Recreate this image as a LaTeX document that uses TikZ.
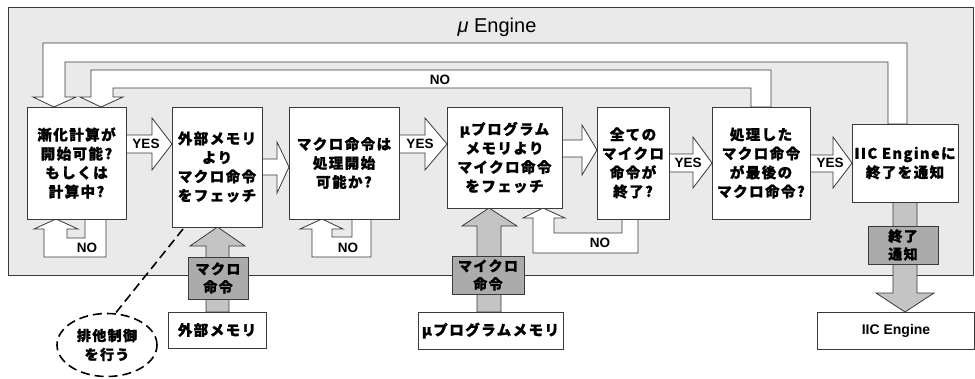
\documentclass[tikz,border=0pt]{standalone}
\usepackage{fontspec}
\setmainfont{Liberation Sans}
\newfontfamily\jp{Noto Sans CJK JP}[LetterSpace=10, BoldFeatures={FakeBold=1.2}]
\usetikzlibrary{shapes.geometric}
\definecolor{bggray}{HTML}{EAEAEA}
\definecolor{linec}{HTML}{3A3A3A}
\definecolor{shaftgray}{HTML}{C4C4C4}
\definecolor{labgray}{HTML}{ABABAB}
\tikzset{
  boxn/.style={draw=linec, fill=white, line width=0.8pt, align=center, inner sep=0pt,
    font=\jp\bfseries\fontsize{14.5}{19}\selectfont},
  glab/.style={draw=linec, fill=labgray, line width=0.8pt, align=center, inner sep=0pt,
    font=\jp\bfseries\fontsize{14}{18}\selectfont},
  yn/.style={font=\bfseries\fontsize{13.5}{15}\selectfont, inner sep=0pt},
  blk/.style={draw=linec, fill=white, line width=0.8pt, line join=miter},
  gblk/.style={draw=linec, fill=shaftgray, line width=0.8pt, line join=miter},
}
\begin{document}
\begin{tikzpicture}[x=1pt,y=-1pt]
\useasboundingbox (0,0) rectangle (975,378);
% background frame
\draw[draw=linec, fill=bggray, line width=0.8pt] (8,7) rectangle (973,275);
\node[font=\fontsize{20}{22}\selectfont] (title) at (497,27) {{\itshape μ} Engine};

% loop arrows
\draw[blk] (888,124) -- (888,62) -- (65,62) -- (65,97) -- (76,97) -- (54,107) -- (33,97) -- (43,97) -- (43,43) -- (907,43) -- (907,124) -- cycle;
\draw[blk] (751,107) -- (751,88) -- (113,88) -- (113,97) -- (123,97) -- (101,107) -- (80,97) -- (91,97) -- (91,70) -- (771,70) -- (771,107) -- cycle;
\node[yn] (no0) at (440,80) {NO};

% bottom NO loops
\draw[blk] (106,219) -- (106,257) -- (44,257) -- (44,229) -- (34,229) -- (56,219) -- (78,229) -- (67,229) -- (67,238) -- (85,238) -- (85,219) -- cycle;
\node[yn] (no1) at (87,248) {NO};
\draw[blk] (371,219) -- (371,257) -- (312,257) -- (312,229) -- (300,229) -- (322,219) -- (343,229) -- (332,229) -- (332,237) -- (352,237) -- (352,219) -- cycle;
\node[yn] (no3) at (348,248) {NO};
\draw[blk] (638,219) -- (638,253) -- (533,253) -- (533,218) -- (523,218) -- (543,208) -- (565,218) -- (554,218) -- (554,233) -- (622,233) -- (622,219) -- cycle;
\node[yn] (no5) at (600,243) {NO};

% horizontal block arrows
\draw[blk] (126,135) -- (152,135) -- (152,118) -- (172,144) -- (152,170) -- (152,153) -- (126,153) -- cycle;
\node[yn] (y1) at (146,144) {YES};
\draw[blk] (262,159) -- (277,159) -- (277,142) -- (289,167) -- (277,193) -- (277,175) -- (262,175) -- cycle;
\draw[blk] (399,135) -- (425,135) -- (425,118) -- (447,144) -- (425,170) -- (425,153) -- (399,153) -- cycle;
\node[yn] (y3) at (420,144) {YES};
\draw[blk] (562,140) -- (582,140) -- (582,125) -- (597,150) -- (582,175) -- (582,157) -- (562,157) -- cycle;
\draw[blk] (669,154) -- (693,154) -- (693,137) -- (712,163) -- (693,188) -- (693,172) -- (669,172) -- cycle;
\node[yn] (y5) at (688,163) {YES};
\draw[blk] (810,155) -- (833,155) -- (833,137) -- (852,163) -- (833,188) -- (833,172) -- (810,172) -- cycle;
\node[yn] (y6) at (830,163) {YES};

% gray vertical arrows
\draw[gblk] (206,312) -- (206,246) -- (190,246) -- (217.5,227) -- (245,246) -- (229,246) -- (229,312) -- cycle;
\draw[gblk] (477,312) -- (477,226) -- (462,226) -- (489,208) -- (517,226) -- (501,226) -- (501,312) -- cycle;
\draw[gblk] (893,202) -- (893,293) -- (876,293) -- (905,312) -- (934,293) -- (917,293) -- (917,202) -- cycle;

% process boxes
\node[boxn, minimum width=99pt, minimum height=112pt] (b1) at (76.5,163) {漸化計算が\\開始可能?\\もしくは\\計算中?};
\node[boxn, minimum width=90pt, minimum height=120pt] (b2) at (217,167) {外部メモリ\\より\\マクロ命令\\をフェッチ};
\node[boxn, minimum width=110pt, minimum height=112pt] (b3) at (344,163) {マクロ命令は\\処理開始\\可能か?};
\node[boxn, minimum width=115pt, minimum height=101pt] (b4) at (504.5,157.5) {μプログラム\\メモリより\\マイクロ命令\\をフェッチ};
\node[boxn, minimum width=72pt, minimum height=112pt] (b5) at (633,163) {全ての\\マイクロ\\命令が\\終了?};
\node[boxn, minimum width=98pt, minimum height=112pt] (b6) at (761,163) {処理した\\マクロ命令\\が最後の\\マクロ命令?};
\node[boxn, minimum width=106pt, minimum height=78pt] (b7) at (905,163) {IIC Engineに\\終了を通知};

% label boxes on gray arrows
\node[glab, minimum width=60pt, minimum height=42pt] (l1) at (218,278) {マクロ\\命令};
\node[glab, minimum width=72pt, minimum height=38pt] (l2) at (488,275) {マイクロ\\命令};
\node[glab, minimum width=70pt, minimum height=38pt] (l3) at (903,245) {終了\\通知};

% external boxes
\node[boxn, minimum width=98pt, minimum height=36pt] (e1) at (217,330) {外部メモリ};
\node[boxn, minimum width=145pt, minimum height=37pt] (e2) at (490.5,330.5) {μプログラムメモリ};
\node[boxn, minimum width=157pt, minimum height=37pt, font=\bfseries\fontsize{14}{16}\selectfont] (e3) at (896,330.5) {IIC Engine};

% dashed note
\node[ellipse, draw=black, dashed, dash pattern=on 9pt off 5pt, line width=1.6pt, fill=white,
  minimum width=100pt, minimum height=63pt, inner sep=0pt, align=center,
  font=\jp\bfseries\fontsize{14}{19}\selectfont] (ell) at (107,345) {排他制御\\を行う};
\coordinate (dstart) at (183,229);
\draw[dashed, dash pattern=on 9pt off 5pt, line width=1.6pt] (dstart) -- (ell.75);
\end{tikzpicture}
\end{document}
